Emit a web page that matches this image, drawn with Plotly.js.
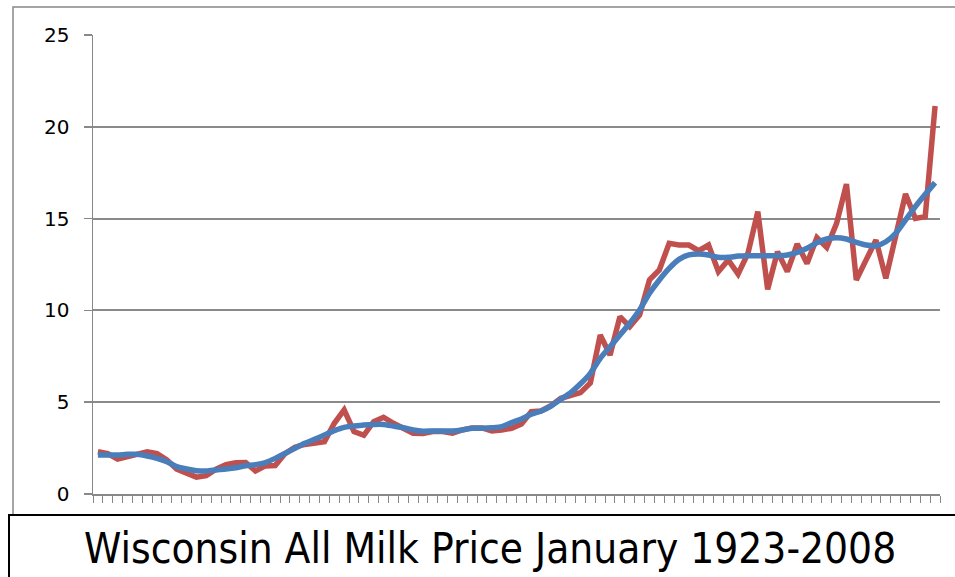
<!DOCTYPE html>
<html>
<head>
<meta charset="utf-8">
<script src="https://cdn.plot.ly/plotly-3.0.1.min.js"></script>
<style>
html,body{margin:0;padding:0;background:#fff;}
#chart{width:955px;height:577px;}
</style>
</head>
<body>
<div id="chart"></div>
<script>
var years = [1923,1924,1925,1926,1927,1928,1929,1930,1931,1932,1933,1934,1935,1936,1937,1938,1939,1940,
  1941,1942,1943,1944,1945,1946,1947,1948,1949,1950,1951,1952,1953,1954,1955,1956,1957,1958,1959,1960,
  1961,1962,1963,1964,1965,1966,1967,1968,1969,1970,1971,1972,1973,1974,1975,1976,1977,1978,1979,1980,
  1981,1982,1983,1984,1985,1986,1987,1988,1989,1990,1991,1992,1993,1994,1995,1996,1997,1998,1999,2000,
  2001,2002,2003,2004,2005,2006,2007,2008];

var milkPrice = [2.3,2.2,1.9,2.05,2.2,2.3,2.2,1.85,1.35,1.1,0.92,1.0,1.35,1.6,1.7,1.72,1.25,1.53,
  1.55,2.2,2.55,2.7,2.75,2.85,3.85,4.58,3.4,3.2,3.94,4.18,3.85,3.58,3.31,3.3,3.4,3.4,3.31,3.49,
  3.6,3.6,3.43,3.49,3.58,3.81,4.48,4.52,4.81,5.21,5.39,5.52,6.05,8.66,7.57,9.66,9.11,9.75,11.66,12.2,
  13.65,13.56,13.56,13.25,13.56,12.11,12.75,11.98,13.11,15.38,11.15,13.2,12.11,13.62,12.56,13.96,13.43,14.74,
  16.88,11.66,12.75,13.83,11.75,14.02,16.34,15.01,15.11,21.13];

var trend = [2.12,2.12,2.12,2.16,2.16,2.07,1.94,1.76,1.49,1.36,1.27,1.25,1.31,1.36,1.43,1.54,1.6,1.71,
  1.94,2.21,2.49,2.76,2.98,3.21,3.45,3.63,3.7,3.76,3.79,3.79,3.7,3.61,3.49,3.42,3.43,3.43,3.43,3.49,
  3.58,3.58,3.61,3.67,3.89,4.08,4.34,4.52,4.79,5.16,5.52,6.0,6.57,7.39,8.02,8.66,9.3,10.02,10.93,11.66,
  12.29,12.78,13.02,13.07,13.02,12.89,12.89,12.96,12.98,12.98,12.98,12.98,13.02,13.16,13.38,13.69,13.89,13.96,
  13.89,13.71,13.56,13.52,13.74,14.2,14.92,15.65,16.32,16.96];

var yTicks = [0,5,10,15,20,25];
var chartTitle = 'Wisconsin All Milk Price January 1923-2008';

var traces = [
  {x: years, y: milkPrice, type: 'scatter', mode: 'lines',
   line: {color: '#C0504D', width: 5.5}, hoverinfo: 'skip'},
  {x: years, y: trend, type: 'scatter', mode: 'lines',
   line: {color: '#4A7EBB', width: 5.5, shape: 'spline', smoothing: 0.6}, hoverinfo: 'skip'}
];

var W = 847, H = 459; // plot area size in px
function px(x){ return (x - 93) / W; }
function py(y){ return (494 - y) / H; }

var layout = {
  width: 955, height: 577,
  margin: {l: 93, r: 15, t: 35, b: 83, pad: 0},
  paper_bgcolor: '#ffffff', plot_bgcolor: '#ffffff',
  showlegend: false,
  font: {family: 'DejaVu Sans, Verdana, sans-serif', color: '#000'},
  xaxis: {
    range: [years[0] - 0.5, years[years.length - 1] + 0.5],
    tick0: years[0] - 0.5, dtick: 1, tickmode: 'linear',
    ticks: 'outside', ticklen: 7, tickwidth: 1, tickcolor: '#888',
    showticklabels: false, showgrid: false, zeroline: false,
    showline: true, linecolor: '#888', linewidth: 1.5, fixedrange: true
  },
  yaxis: {
    range: [0, 25], tickvals: yTicks, ticktext: yTicks.map(String),
    ticks: 'outside', ticklen: 8, tickwidth: 1.5, tickcolor: '#888',
    showgrid: true, gridcolor: '#8a8a8a', gridwidth: 2, zeroline: false,
    showline: true, linecolor: '#888', linewidth: 1.5,
    tickfont: {size: 20, family: 'DejaVu Sans, Verdana, sans-serif', color: '#000'},
    ticklabelstandoff: 10, fixedrange: true
  },
  shapes: [
    {type: 'rect', xref: 'paper', yref: 'paper', x0: px(13), x1: px(965), y0: py(590), y1: py(7),
     line: {color: '#888', width: 1.5}, fillcolor: 'rgba(0,0,0,0)', layer: 'below'},
    {type: 'rect', xref: 'paper', yref: 'paper', x0: px(9), x1: px(965), y0: py(600), y1: py(515),
     line: {color: '#000', width: 2}, fillcolor: '#ffffff', layer: 'above'}
  ],
  annotations: [
    {text: chartTitle, xref: 'paper', yref: 'paper', x: px(490), y: py(548),
     xanchor: 'center', yanchor: 'middle', showarrow: false,
     font: {size: 42, family: 'DejaVu Sans Condensed, Liberation Sans Narrow, sans-serif', color: '#000'}}
  ]
};

Plotly.newPlot('chart', traces, layout, {displayModeBar: false, staticPlot: true});
</script>
</body>
</html>
